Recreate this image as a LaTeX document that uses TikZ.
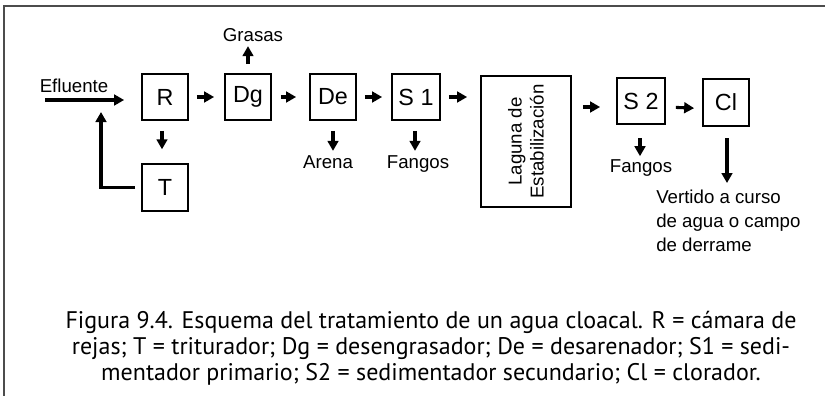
\documentclass[tikz,border=0pt]{standalone}
\usepackage{fontspec}
\setmainfont{Liberation Sans}
\newfontfamily\capfont{PT Sans}
\usetikzlibrary{arrows.meta}
\begin{document}
\begin{tikzpicture}[x=0.75pt,y=-0.75pt,
  box/.style={draw,line width=1.3pt,inner sep=0pt,minimum width=34.5pt,minimum height=34.5pt,font=\fontsize{17.5}{18}\selectfont},
  lbl/.style={font=\fontsize{14}{18}\selectfont,inner sep=0pt,anchor=base},
  arr/.style={line width=2.3pt,-{Triangle[length=7.5pt,width=8pt]}},
  frame/.style={line width=1.5pt,draw=black!70}]
\useasboundingbox (0,0) rectangle (825,396);
\draw[frame] (825,6) -- (4,6) -- (4,396);
% boxes
\node[box] (R) at (165,97) {R};
\node[box] (Dg) at (248,97) {Dg};
\node[box] (De) at (333,97) {De};
\node[box,minimum width=36pt] (S1) at (416,97) {S 1};
\node[box,minimum width=67.5pt,minimum height=98pt] (L) at (526,141.5) {};
\node[box,minimum width=36pt] (S2) at (641,101) {S 2};
\node[box,minimum height=35pt] (Cl) at (726,102.5) {Cl};
\node[box,minimum height=35pt] (T) at (165,187.5) {T};
% laguna text
\node[rotate=90,align=center,inner sep=0pt,font=\fontsize{14}{16.5}\selectfont] (Lt) at (L.center) {Laguna de\\Estabilización};
% labels
\node[lbl] (Ef) at (74,92) {Efluente};
\node[lbl] (Gr) at (253,41) {Grasas};
\node[lbl] (Ar) at (328,168) {Arena};
\node[lbl] (F1) at (418,168) {Fangos};
\node[lbl] (F2) at (641,172) {Fangos};
\node[lbl,align=left,anchor=north west,font=\fontsize{14}{18}\selectfont] (V) at (656,190) {Vertido a curso\\de agua o campo\\de derrame};
\coordinate (e0) at (45,100);
\coordinate (fb) at (101,112);
% arrows
\draw[arr,shorten >=12.75pt] (e0) -- (e0 -| R.west);
\draw[arr,shorten <=4.5pt] (T.west) -| (fb);
\draw[arr,shorten <=6pt,shorten >=7.5pt] (R.east) -- (Dg.west);
\draw[arr,shorten <=6.75pt,shorten >=9.75pt] (Dg.east) -- (De.west);
\draw[arr,shorten <=6pt,shorten >=6.75pt] (De.east) -- (S1.west);
\draw[arr,shorten <=6pt,shorten >=9.75pt] (S1.east) -- (S1.east -| L.west);
\draw[arr,shorten <=8.25pt,shorten >=12pt] ([yshift=-4.5pt]S2.west -| L.east) -- ([yshift=-4.5pt]S2.west);
\draw[arr,shorten <=7.5pt,shorten >=6pt] ([yshift=-4.5pt]S2.east) -- ([yshift=-4.5pt]Cl.west);
\draw[arr,shorten <=7.5pt,shorten >=10.5pt] ([xshift=-2.25pt]R.south) -- ([xshift=-2.25pt]T.north);
\draw[arr] ([yshift=6.75pt]Dg.north) -- ++(0,-18);
\draw[arr] ([yshift=-7.5pt]De.south) -- ++(0,20);
\draw[arr] ([xshift=-0.75pt,yshift=-7.5pt]S1.south) -- ++(0,20);
\draw[arr] ([xshift=-0.75pt,yshift=-10pt]S2.south) -- ++(0,18);
\draw[arr] ([xshift=0.75pt,yshift=-8.5pt]Cl.south) -- ++(0,45);
% caption
\node[font=\capfont\fontsize{18}{19.5}\selectfont,align=center,inner sep=0pt] (cap) at (431,348) {Figura 9.4. Esquema del tratamiento de un agua cloacal. R = cámara de\\rejas; T = triturador; Dg = desengrasador; De = desarenador; S1 = sedi-\\mentador primario; S2 = sedimentador secundario; Cl = clorador.};
\end{tikzpicture}
\end{document}
